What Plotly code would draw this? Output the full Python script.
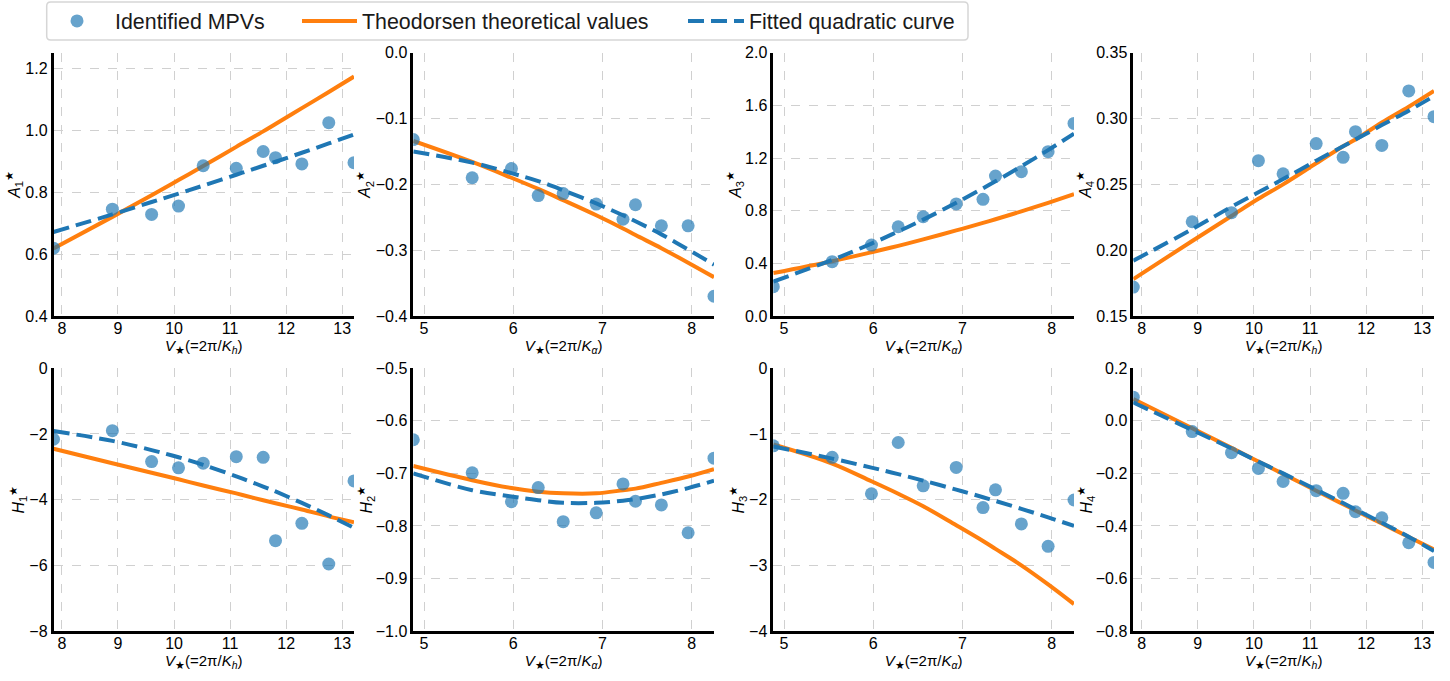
import plotly.graph_objects as go
from plotly.subplots import make_subplots

# ---------------- data ----------------
v_h = [7.85, 8.90, 9.60, 10.08, 10.52, 11.11, 11.59, 11.81, 12.28, 12.76, 13.21]
v_a = [4.88, 5.54, 5.98, 6.28, 6.56, 6.93, 7.23, 7.37, 7.66, 7.96, 8.25]

A1_mpv = [0.619, 0.745, 0.728, 0.755, 0.885, 0.877, 0.931, 0.911, 0.891, 1.024, 0.895]
A1_theo = [0.618, 0.720, 0.790, 0.839, 0.884, 0.946, 0.996, 1.020, 1.071, 1.123, 1.173]
A1_fit = [0.671, 0.728, 0.768, 0.795, 0.821, 0.856, 0.885, 0.898, 0.927, 0.957, 0.986]

A2_mpv = [-0.132, -0.190, -0.176, -0.217, -0.214, -0.230, -0.253, -0.231, -0.263, -0.263, -0.370]
A2_theo = [-0.134, -0.166, -0.190, -0.207, -0.224, -0.247, -0.267, -0.277, -0.297, -0.319, -0.341]
A2_fit = [-0.150, -0.167, -0.183, -0.195, -0.209, -0.229, -0.247, -0.256, -0.276, -0.299, -0.322]

A3_mpv = [0.223, 0.413, 0.539, 0.678, 0.754, 0.851, 0.886, 1.063, 1.096, 1.248, 1.463]
A3_theo = [0.326, 0.416, 0.484, 0.533, 0.582, 0.650, 0.707, 0.735, 0.795, 0.860, 0.925]
A3_fit = [0.262, 0.426, 0.550, 0.642, 0.732, 0.860, 0.970, 1.023, 1.137, 1.260, 1.385]

A4_mpv = [0.172, 0.2216, 0.2285, 0.268, 0.258, 0.281, 0.2705, 0.290, 0.2796, 0.321, 0.3014]
A4_theo = [0.178, 0.207, 0.226, 0.239, 0.250, 0.266, 0.279, 0.284, 0.297, 0.309, 0.321]
A4_fit = [0.192, 0.216, 0.233, 0.244, 0.254, 0.268, 0.279, 0.284, 0.295, 0.306, 0.317]

H1_mpv = [-2.16, -1.90, -2.84, -3.03, -2.89, -2.69, -2.71, -5.25, -4.72, -5.96, -3.43]
H1_theo = [-2.45, -2.89, -3.18, -3.38, -3.57, -3.81, -4.02, -4.11, -4.30, -4.51, -4.69]
H1_fit = [-1.91, -2.21, -2.49, -2.71, -2.94, -3.29, -3.60, -3.75, -4.10, -4.48, -4.86]

H2_mpv = [-0.636, -0.699, -0.754, -0.727, -0.792, -0.775, -0.720, -0.753, -0.760, -0.813, -0.671]
H2_theo = [-0.686, -0.713, -0.728, -0.735, -0.738, -0.738, -0.732, -0.729, -0.718, -0.706, -0.692]
H2_fit = [-0.700, -0.732, -0.744, -0.751, -0.756, -0.756, -0.752, -0.749, -0.740, -0.728, -0.714]

H3_mpv = [-1.18, -1.355, -1.91, -1.13, -1.79, -1.51, -2.12, -1.85, -2.37, -2.71, -2.005]
H3_theo = [-1.16, -1.45, -1.72, -1.91, -2.10, -2.39, -2.63, -2.75, -3.00, -3.29, -3.59]
H3_fit = [-1.19, -1.375, -1.512, -1.612, -1.71, -1.847, -1.963, -2.02, -2.14, -2.27, -2.40]

H4_mpv = [0.090, -0.041, -0.121, -0.181, -0.231, -0.266, -0.276, -0.346, -0.369, -0.464, -0.539]
H4_theo = [0.083, -0.028, -0.103, -0.155, -0.202, -0.266, -0.317, -0.341, -0.391, -0.442, -0.490]
H4_fit = [0.070, -0.035, -0.105, -0.155, -0.200, -0.262, -0.313, -0.337, -0.388, -0.441, -0.496]

legend_names = ["Identified MPVs", "Theodorsen theoretical values", "Fitted quadratic curve"]

panels = [
    (v_h, "h", A1_mpv, A1_theo, A1_fit, "A", "1", [0.4, 1.25], 0.2, ".1f"),
    (v_a, "α", A2_mpv, A2_theo, A2_fit, "A", "2", [-0.4, 0.0], 0.1, ".1f"),
    (v_a, "α", A3_mpv, A3_theo, A3_fit, "A", "3", [0.0, 2.0], 0.4, ".1f"),
    (v_h, "h", A4_mpv, A4_theo, A4_fit, "A", "4", [0.15, 0.35], 0.05, ".2f"),
    (v_h, "h", H1_mpv, H1_theo, H1_fit, "H", "1", [-8, 0], 2, "d"),
    (v_a, "α", H2_mpv, H2_theo, H2_fit, "H", "2", [-1.0, -0.5], 0.1, ".1f"),
    (v_a, "α", H3_mpv, H3_theo, H3_fit, "H", "3", [-4, 0], 1, "d"),
    (v_h, "h", H4_mpv, H4_theo, H4_fit, "H", "4", [-0.8, 0.2], 0.2, ".1f"),
]

W, H = 1450, 681
col_px = [(53.5, 354.0), (413.3, 714.0), (773.3, 1074.0), (1133.3, 1434.0)]
row_px = [(52.7, 316.0), (368.3, 631.0)]

fig = make_subplots(rows=2, cols=4)

BLUE = "#1f77b4"
ORANGE = "#ff7f0e"
PT = "rgba(31,119,180,0.68)"

for i, (xs, kind, mpv, theo, fit, letter, idx, yr, dt, fmt) in enumerate(panels):
    r, c = i // 4 + 1, i % 4 + 1
    first = (i == 0)
    fig.add_trace(go.Scatter(x=xs, y=theo, mode="lines", line=dict(color=ORANGE, width=4, shape="spline"),
                             name=legend_names[1], showlegend=first, legend="legend2"), row=r, col=c)
    fig.add_trace(go.Scatter(x=xs, y=fit, mode="lines",
                             line=dict(color=BLUE, width=4, dash="16px,7px", shape="spline"),
                             name=legend_names[2], showlegend=first, legend="legend3"), row=r, col=c)
    fig.add_trace(go.Scatter(x=xs, y=mpv, mode="markers", marker=dict(color=PT, size=13, line=dict(width=0)),
                             name=legend_names[0], showlegend=first, legend="legend"), row=r, col=c)

    x0, x1 = col_px[c - 1]
    y0, y1 = row_px[r - 1]
    xdom = [x0 / W, x1 / W]
    ydom = [1 - y1 / H, 1 - y0 / H]
    xtitle = "<i>V</i><sub>★</sub>(=2π/<i>K</i><sub><i>%s</i></sub>)" % kind
    ytitle = "<i>%s</i><sub>%s</sub><sup>★</sup>" % (letter, idx)
    fig.update_xaxes(domain=xdom, range=[min(xs), max(xs)], dtick=1, tick0=0, automargin=False,
                     showline=True, linecolor="black", linewidth=2.5, mirror=False,
                     showgrid=True, gridcolor="#d0d0d0", griddash="dash", gridwidth=1,
                     zeroline=False, ticks="", ticklen=0, ticklabelstandoff=-4,
                     tickfont=dict(size=16, color="black"),
                     title=dict(text=xtitle, font=dict(size=15, color="black"), standoff=0),
                     row=r, col=c)
    fig.update_yaxes(domain=ydom, range=yr, dtick=dt, tick0=0, tickformat=fmt, automargin=False,
                     showline=True, linecolor="black", linewidth=2.5, mirror=False,
                     showgrid=True, gridcolor="#d0d0d0", griddash="dash", gridwidth=1,
                     zeroline=False, ticks="", ticklen=0, tickfont=dict(size=16, color="black"),
                     title=dict(text=ytitle, font=dict(size=16, color="black"), standoff=0),
                     row=r, col=c)

# legend frame (matplotlib-style rounded box)
fx0, fx1, fy0, fy1, rr = 46.7, 968.0, 2.0, 40.0, 4.0
def px(x):
    return x / W
def py(y):
    return 1 - y / H
frame = ("M {a},{b} L {c},{b} Q {d},{b} {d},{e} L {d},{f} Q {d},{g} {c},{g} "
         "L {a},{g} Q {h},{g} {h},{f} L {h},{e} Q {h},{b} {a},{b} Z").format(
    a=px(fx0 + rr), b=py(fy0), c=px(fx1 - rr), d=px(fx1), e=py(fy0 + rr),
    f=py(fy1 - rr), g=py(fy1), h=px(fx0))
fig.add_shape(type="path", xref="paper", yref="paper", path=frame,
              line=dict(color="#d6d6d6", width=1.5), fillcolor="white", layer="above")

leg_common = dict(orientation="h", yanchor="middle", y=1 - 21 / H, xanchor="left",
                  font=dict(size=21.4, color="#1a1a1a"), borderwidth=0,
                  bgcolor="rgba(0,0,0,0)")
fig.update_layout(
    width=W, height=H,
    margin=dict(l=0, r=0, t=0, b=0, autoexpand=False),
    plot_bgcolor="white", paper_bgcolor="white",
    font=dict(family="Liberation Sans, Arial, sans-serif", color="black"),
    legend=dict(x=39 / W, itemwidth=66, **leg_common),
    legend2=dict(x=297 / W, itemwidth=55, **leg_common),
    legend3=dict(x=683 / W, itemwidth=56, **leg_common),
    showlegend=True,
)

fig.write_html("out.html", config={"displayModeBar": False},
               post_script="document.body.style.margin='0px';")
